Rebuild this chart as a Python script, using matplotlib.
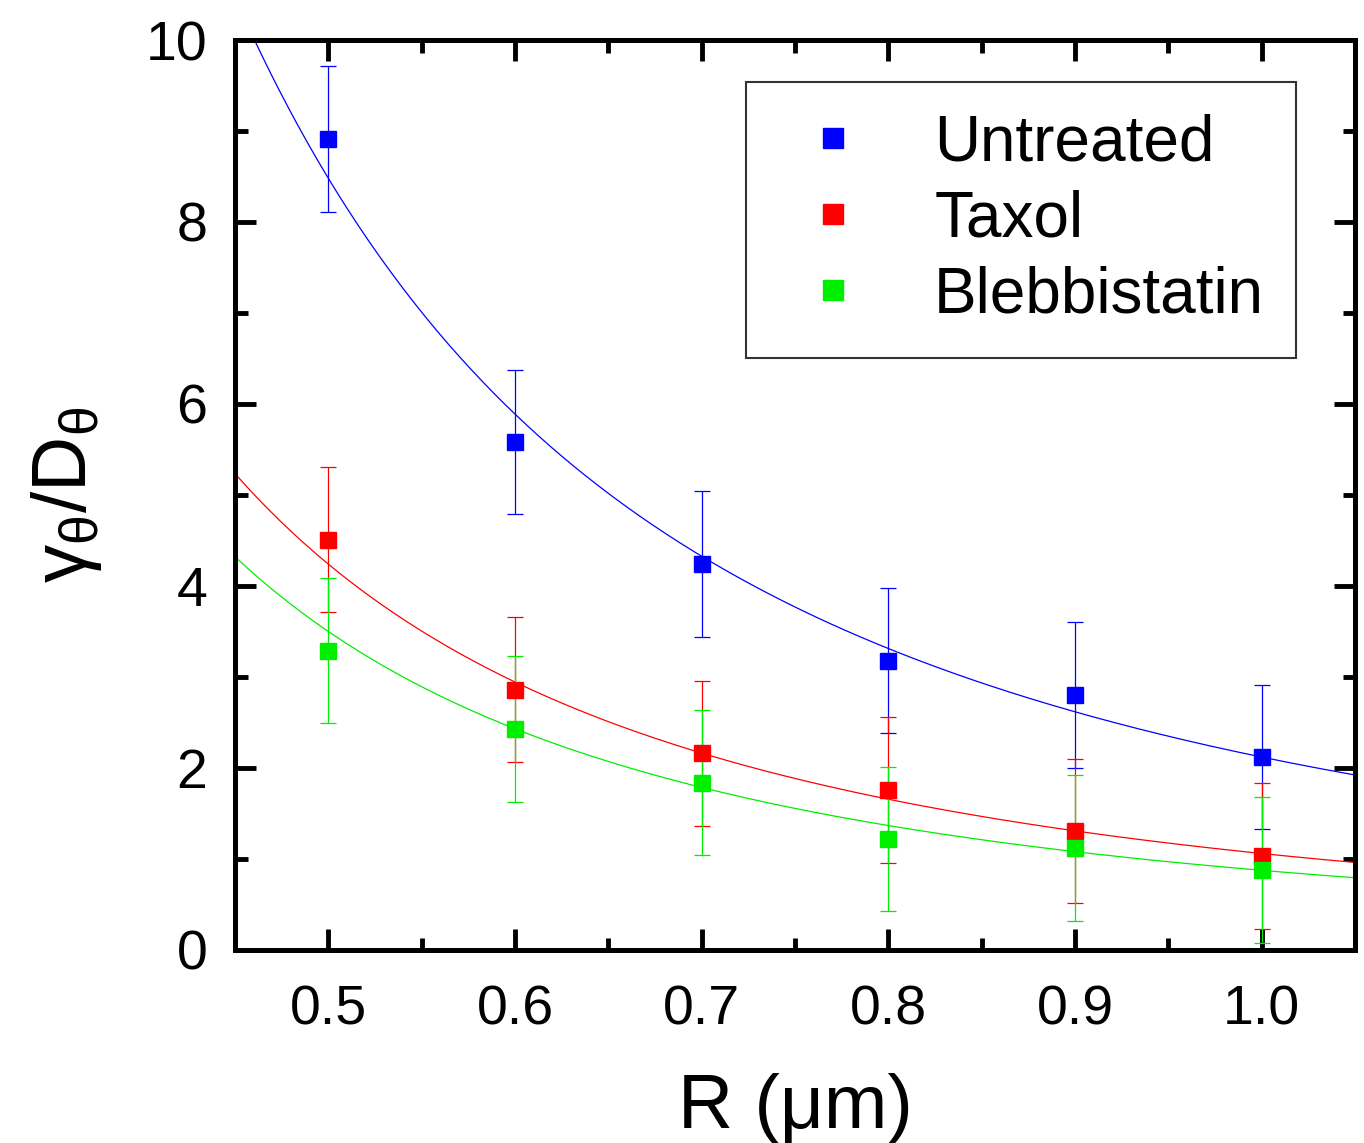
import numpy as np
import matplotlib
matplotlib.use('Agg')
import matplotlib.pyplot as plt
from matplotlib.lines import Line2D
from matplotlib.ticker import MultipleLocator

# data
radius = [0.5, 0.6, 0.7, 0.8, 0.9, 1.0]
untreated = [8.91, 5.58, 4.24, 3.18, 2.80, 2.12]
taxol = [4.51, 2.86, 2.16, 1.76, 1.31, 1.03]
blebbistatin = [3.29, 2.43, 1.84, 1.22, 1.12, 0.88]
untreated_err = [0.80, 0.79, 0.80, 0.80, 0.80, 0.79]
taxol_err = [0.80, 0.80, 0.80, 0.80, 0.79, 0.80]
blebbistatin_err = [0.80, 0.80, 0.80, 0.79, 0.80, 0.80]
# fitted amplitude of A / R^2 curves, read from the drawn fits
fit_amp = [2.12, 1.06, 0.875]
fit_power = -2.0

labels = ['Untreated', 'Taxol', 'Blebbistatin']
colors = ['#0000ff', '#ff0000', '#00ee00']

plt.rcParams['font.family'] = ['Liberation Sans', 'DejaVu Sans']
plt.rcParams['mathtext.fontset'] = 'custom'
plt.rcParams['mathtext.rm'] = 'Liberation Sans'
plt.rcParams['mathtext.it'] = 'Liberation Sans'


def main():
    fig = plt.figure(figsize=(13.64, 11.43), dpi=100)
    ax = fig.add_axes([0.1723, 0.1689, 0.8211, 0.7961])

    series = [untreated, taxol, blebbistatin]
    errs = [untreated_err, taxol_err, blebbistatin_err]
    rr = np.linspace(0.45, 1.05, 300)
    for y, e, amp, c in zip(series, errs, fit_amp, colors):
        ax.plot(rr, amp * rr ** fit_power, color=c, lw=0.9, zorder=2)
        ax.errorbar(radius, y, yerr=e, fmt='none', ecolor=c, elinewidth=0.9,
                    capsize=6, capthick=0.9, zorder=3)
        ax.plot(radius, y, 's', color=c, ms=12, mec=c, zorder=4)

    ax.set_xlim(0.45, 1.05)
    ax.set_ylim(0, 10)
    ax.xaxis.set_major_locator(MultipleLocator(0.1))
    ax.xaxis.set_minor_locator(MultipleLocator(0.05))
    ax.yaxis.set_major_locator(MultipleLocator(2))
    ax.yaxis.set_minor_locator(MultipleLocator(1))
    ax.tick_params(which='both', direction='in', top=True, right=True, width=3.5)
    ax.tick_params(which='major', length=15)
    ax.tick_params(which='minor', length=9)
    ax.tick_params(axis='y', labelsize=40, pad=20)
    ax.tick_params(axis='x', pad=25)
    for s in ax.spines.values():
        s.set_linewidth(3.6)

    ax.set_xticks([0.5, 0.6, 0.7, 0.8, 0.9, 1.0])
    ax.set_xticklabels(['0.5', '0.6', '0.7', '0.8', '0.9', '1.0'], fontsize=40)
    ax.set_xlabel('R (\u03bcm)', fontsize=55, labelpad=26)
    ax.set_ylabel(r'$\mathrm{\gamma_\theta/D_\theta}$', fontsize=55, labelpad=30)

    handles = [Line2D([], [], marker='s', ls='none', color=c, ms=14) for c in colors]
    leg = ax.legend(handles, labels, loc='upper left',
                    bbox_to_anchor=(0.456, 0.954), borderaxespad=0,
                    fontsize=46, frameon=True, fancybox=False,
                    handletextpad=0.73, borderpad=0.5, labelspacing=0.25,
                    handlelength=1.72)
    leg.get_frame().set_edgecolor('black')
    leg.get_frame().set_linewidth(1.5)

    fig.savefig('out.png', dpi=100)


if __name__ == '__main__':
    main()
